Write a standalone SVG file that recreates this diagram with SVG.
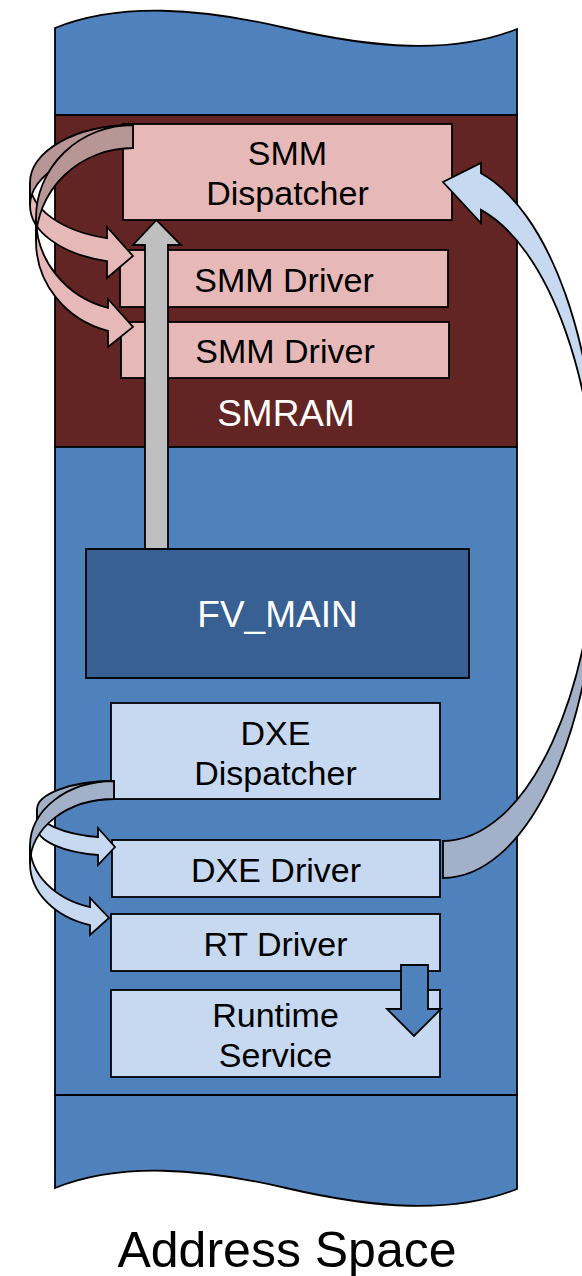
<svg xmlns="http://www.w3.org/2000/svg" width="582" height="1276" viewBox="0 0 582 1276">
<style>
.ol{stroke:#000;stroke-width:1.8;stroke-linejoin:miter}
.blue{fill:#4F81BD}
.pink{fill:#E6B9B8}
.pinkd{fill:#B99696}
.lb{fill:#C6D9F1}
.lbd{fill:#A2B1C7}
.t{font-family:"Liberation Sans",Arial,sans-serif;font-size:34px;text-anchor:middle;fill:#000}
.tw{font-family:"Liberation Sans",Arial,sans-serif;font-size:37px;text-anchor:middle;fill:#fff}
</style>
<rect width="582" height="1276" fill="#fff"/>
<g id="address-space">
  <path class="blue ol" d="M55,28 C120,2 200,8 286,28 C372,48 452,55 517,29 L517,115 L55,115 Z"/>
  <rect id="smram-bg" x="55" y="115" width="462" height="332" fill="#632523" class="ol"/>
  <rect class="blue ol" x="55" y="447" width="462" height="648"/>
  <path class="blue ol" d="M55,1095 L517,1095 L517,1189 C452,1215 372,1208 286,1188 C200,1168 120,1162 55,1188 Z"/>
  <text x="287" y="1267" font-family="Liberation Sans, Arial, sans-serif" font-size="50" text-anchor="middle" fill="#000">Address Space</text>
</g>
<g id="smram-label"><text class="tw" x="286" y="426">SMRAM</text></g>
<g id="smm-dispatcher">
  <rect class="pink ol" x="123" y="124" width="329" height="96"/>
  <text class="t" x="287.5" y="165">SMM</text>
  <text class="t" x="287.5" y="205">Dispatcher</text>
</g>
<g id="smm-driver-1">
  <rect class="pink ol" x="120" y="250" width="328" height="57"/>
  <text class="t" x="284" y="292">SMM Driver</text>
</g>
<g id="smm-driver-2">
  <rect class="pink ol" x="121" y="322" width="328" height="56"/>
  <text class="t" x="285" y="363">SMM Driver</text>
</g>
<g id="fv-main">
  <rect class="ol" fill="#386092" x="86" y="549" width="383" height="129"/>
  <text class="tw" x="277.5" y="627">FV_MAIN</text>
</g>
<g id="dxe-dispatcher">
  <rect class="lb ol" x="111" y="703" width="329" height="96"/>
  <text class="t" x="275.5" y="745">DXE</text>
  <text class="t" x="275.5" y="785">Dispatcher</text>
</g>
<g id="dxe-driver">
  <rect class="lb ol" x="112" y="840" width="328" height="57"/>
  <text class="t" x="276" y="882">DXE Driver</text>
</g>
<g id="rt-driver">
  <rect class="lb ol" x="111" y="914" width="329" height="57"/>
  <text class="t" x="275.5" y="956">RT Driver</text>
</g>
<g id="runtime-service">
  <rect class="lb ol" x="111" y="990" width="329" height="87"/>
  <text class="t" x="275.5" y="1027">Runtime</text>
  <text class="t" x="275.5" y="1067">Service</text>
</g>
<g id="connectors">
  <path class="ol" fill="#BFBFBF" d="M145,549 L145,245 L133,245 L156.5,220 L181,245 L168,245 L168,549 Z"/>
  <path class="pink ol" d="M30,205.5 A103 57.5 0 0 0 107,261.1 L107,278 L133,256 L107,227 L107,238.1 A103 57.5 0 0 1 30,182.5 Z"/>
  <path class="pinkd ol" d="M133,125 A103 57.5 0 0 0 30,182.5 L30,205.5 A103 57.5 0 0 1 133,148 Z"/>
  <path class="pink ol" d="M36,241 A97 93 0 0 0 108,330.9 L108,347 L133,327 L108,299 L108,307.9 A97 93 0 0 1 36,218 Z"/>
  <path class="pinkd ol" d="M133,125 A97 93 0 0 0 36,218 L36,241 A97 93 0 0 1 133,148 Z"/>
  <path class="lb ol" d="M37,827.3 A77 28.3 0 0 0 98,855 L98,865 L115,847 L98,828 L98,837 A77 28.3 0 0 1 37,809.3 Z"/>
  <path class="lbd ol" d="M114,781 A77 28.3 0 0 0 37,809.3 L37,827.3 A77 28.3 0 0 1 114,799 Z"/>
  <path class="lb ol" d="M30,863.4 A84 64.4 0 0 0 90,925.1 L90,935 L109,918 L90,898 L90,907.1 A84 64.4 0 0 1 30,845.4 Z"/>
  <path class="lbd ol" d="M114,781 A84 64.4 0 0 0 30,845.4 L30,863.4 A84 64.4 0 0 1 114,799 Z"/>
  <path class="lb ol" d="M481,173.3 A155 339.2 0 0 1 598,501.8 L598,538.8 A155 339.2 0 0 0 481,209.9 L481,223 L443,182 L481,163 Z"/>
  <path class="lbd ol" d="M598,501.8 A155 339.2 0 0 1 443,841 L443,878 A155 339.2 0 0 0 598,538.8 Z"/>
  <path class="blue ol" d="M401,965 L428,965 L428,1009 L441,1009 L414,1036 L387,1009 L401,1009 Z"/>
</g>
</svg>
